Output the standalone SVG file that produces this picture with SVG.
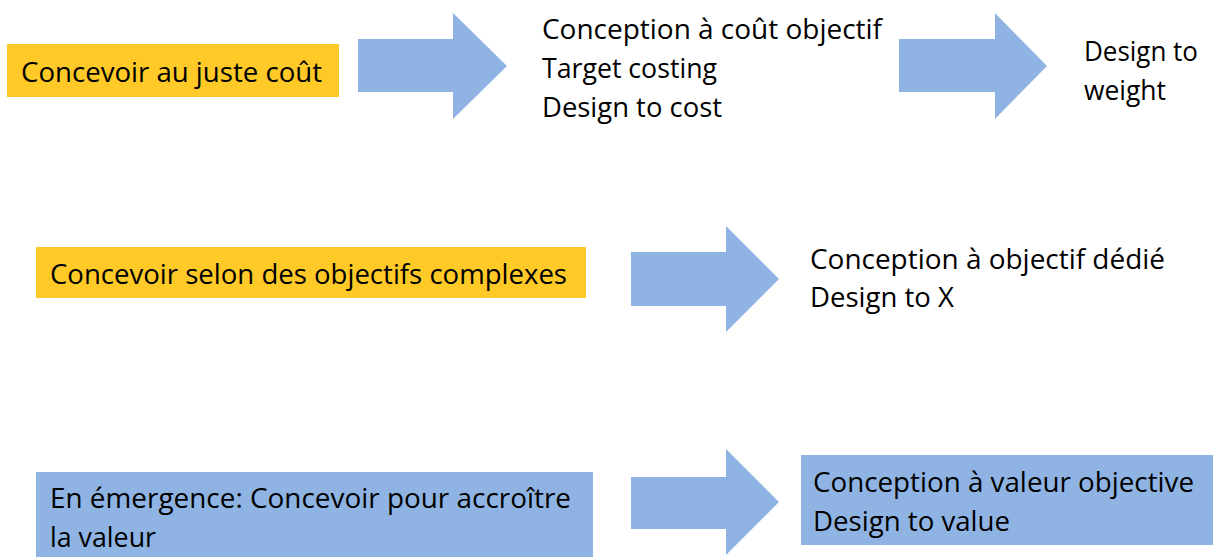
<svg xmlns="http://www.w3.org/2000/svg" width="1213" height="557" viewBox="0 0 1213 557">
<style>
.yel{fill:#FFCA28;}
.blu{fill:#8FB4E3;}
.arr{fill:#8FB4E3;}
text{font-family:"Open Sans","Liberation Sans",sans-serif;font-size:28px;fill:#000;}
</style>
<rect width="1213" height="557" fill="#ffffff"/>
<g id="connectors">
<polygon class="arr" points="358,39 453,39 453,13 507,66 453,119 453,92 358,92"/>
<polygon class="arr" points="899,39 995,39 995,13 1047,66 995,119 995,92 899,92"/>
<polygon class="arr" points="631,252 726,252 726,226 779,279 726,332 726,306 631,306"/>
<polygon class="arr" points="631,477 726,477 726,449 779,502 726,555 726,529 631,529"/>
</g>
<g id="node-juste-cout">
<rect class="yel" x="7" y="44" width="332" height="53"/>
<text x="21" y="82" textLength="301" lengthAdjust="spacingAndGlyphs">Concevoir au juste coût</text>
</g>
<g id="node-cout-objectif">
<text x="542" y="39" textLength="340" lengthAdjust="spacingAndGlyphs">Conception à coût objectif</text>
<text x="542" y="78" textLength="175" lengthAdjust="spacingAndGlyphs">Target costing</text>
<text x="542" y="117" textLength="180" lengthAdjust="spacingAndGlyphs">Design to cost</text>
</g>
<g id="node-weight">
<text x="1084" y="61" textLength="114" lengthAdjust="spacingAndGlyphs">Design to</text>
<text x="1084" y="100" textLength="82" lengthAdjust="spacingAndGlyphs">weight</text>
</g>
<g id="node-objectifs-complexes">
<rect class="yel" x="36" y="247" width="550" height="51"/>
<text x="50" y="284" textLength="517" lengthAdjust="spacingAndGlyphs">Concevoir selon des objectifs complexes</text>
</g>
<g id="node-objectif-dedie">
<text x="810" y="269" textLength="355" lengthAdjust="spacingAndGlyphs">Conception à objectif dédié</text>
<text x="810" y="307" textLength="144" lengthAdjust="spacingAndGlyphs">Design to X</text>
</g>
<g id="node-valeur">
<rect class="blu" x="36" y="472" width="557" height="90"/>
<text x="50" y="508" textLength="521" lengthAdjust="spacingAndGlyphs">En émergence: Concevoir pour accroître</text>
<text x="50" y="547" textLength="106" lengthAdjust="spacingAndGlyphs">la valeur</text>
</g>
<g id="node-valeur-objective">
<rect class="blu" x="801" y="455" width="412" height="90"/>
<text x="813" y="492" textLength="381" lengthAdjust="spacingAndGlyphs">Conception à valeur objective</text>
<text x="813" y="531" textLength="197" lengthAdjust="spacingAndGlyphs">Design to value</text>
</g>
</svg>
